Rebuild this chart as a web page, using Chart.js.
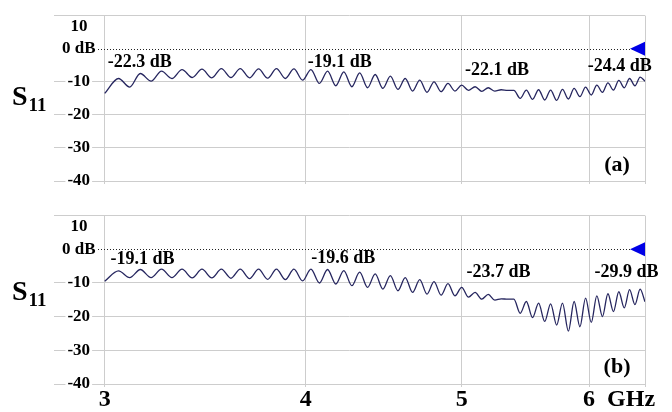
<!DOCTYPE html>
<html><head><meta charset="utf-8">
<script src="https://cdn.jsdelivr.net/npm/chart.js@4.4.0/dist/chart.umd.min.js"></script>
<style>
html,body{margin:0;padding:0;background:#fff;overflow:hidden;}
#wrap{position:relative;width:672px;height:412px;background:#fff;}
#ca{position:absolute;left:0;top:0;}
#cb{position:absolute;left:0;top:200px;}
</style></head><body>
<div id="wrap"><canvas id="ca" width="672" height="200"></canvas><canvas id="cb" width="672" height="212"></canvas></div>
<script>
// ---- data ----
const freqGHz = [
 3.000, 3.060, 3.109, 3.157, 3.206, 3.254, 3.303, 3.351, 3.400, 3.448,
 3.497, 3.545, 3.594, 3.642, 3.691, 3.739, 3.788, 3.836, 3.885, 3.933,
 3.982, 4.030, 4.079, 4.127, 4.176, 4.224, 4.273, 4.321, 4.370, 4.418,
 4.467, 4.515, 4.564, 4.612, 4.661, 4.709, 4.758, 4.806, 4.855, 4.903,
 4.952, 5.000, 5.049, 5.097, 5.146, 5.194, 5.243, 5.291, 5.340, 5.388,
 5.437, 5.485, 5.534, 5.582, 5.631, 5.679, 5.728, 5.776, 5.825, 5.873,
 5.922, 5.970, 6.019, 6.067, 6.116, 6.164, 6.213, 6.261, 6.310, 6.358,
 6.407, 6.455, 6.500];
const s11a = [
 -13.5, -9.0, -11.6, -7.5, -9.8, -6.8, -9.0, -6.3, -8.7, -6.2,
 -8.8, -6.0, -8.7, -6.0, -8.8, -6.1, -8.9, -6.0, -9.0, -6.1,
 -9.5, -6.3, -10.5, -6.8, -11.2, -7.0, -11.5, -7.3, -11.8, -7.8,
 -12.0, -8.3, -12.3, -9.0, -12.8, -9.5, -13.2, -10.0, -13.0, -10.5,
 -12.8, -11.0, -12.6, -11.5, -12.9, -11.8, -12.8, -12.4, -12.6, -12.6,
 -15.0, -12.5, -15.3, -12.4, -15.5, -12.5, -15.6, -12.3, -15.2, -12.0,
 -14.5, -11.6, -14.0, -11.0, -13.2, -10.3, -12.5, -9.6, -11.8, -9.0,
 -11.2, -8.6, -9.8];
const s11b = [
 -9.5, -6.4, -8.4, -6.0, -8.4, -5.9, -8.4, -5.9, -8.5, -5.9,
 -8.5, -5.9, -8.6, -5.9, -8.7, -5.9, -8.9, -5.9, -9.0, -5.9,
 -9.4, -5.9, -10.0, -6.0, -10.3, -6.3, -10.8, -6.8, -11.3, -7.3,
 -11.8, -7.8, -12.3, -8.4, -12.8, -9.0, -13.3, -9.6, -13.6, -10.2,
 -13.8, -11.3, -14.2, -12.8, -14.8, -13.4, -15.1, -14.7, -14.8, -14.8,
 -19.0, -15.5, -20.3, -16.0, -21.4, -16.2, -22.5, -16.0, -24.3, -15.5,
 -23.0, -14.5, -21.7, -13.8, -20.0, -13.2, -18.5, -12.6, -17.4, -12.0,
 -16.4, -11.8, -15.6];
const xTicks = [3, 4, 5, 6, 6.5];
const xTickLabels = ['3', '4', '5', '6', ''];
const yTicks = [10, 0, -10, -20, -30, -40];
const yTickLabels = ['10', '0 dB', '-10', '-20', '-30', '-40'];
const xUnit = 'GHz';
const yTitleMain = 'S';
const yTitleSub = '11';
const noteTextA = ['-22.3 dB', '-19.1 dB', '-22.1 dB', '-24.4 dB'];
const noteFreqA = [3.154, 4.20, 5.26, 6.27];
const noteLevelA = [-4.2, -4.2, -6.5, -5.4];
const noteTextB = ['-19.1 dB', '-19.6 dB', '-23.7 dB', '-29.9 dB'];
const noteFreqB = [3.167, 4.22, 5.27, 6.33];
const noteLevelB = [-2.9, -2.6, -6.7, -6.7];

const SERIF = '"Liberation Serif", "Times New Roman", serif';

function deco(cfg) {
  return {
    id: 'deco',
    beforeDatasetsDraw(chart) {
      const {ctx, chartArea: a, scales: {y}} = chart;
      const y0 = Math.round(y.getPixelForValue(0)) + 0.5;
      ctx.save();
      ctx.strokeStyle = '#222';
      ctx.lineWidth = 1;
      ctx.setLineDash([1, 2]);
      ctx.beginPath();
      ctx.moveTo(a.left + 44, y0);
      ctx.lineTo(a.right - 6, y0);
      ctx.stroke();
      ctx.restore();
    },
    afterDraw(chart) {
      const {ctx, chartArea: a, scales: {x, y}} = chart;
      ctx.save();
      ctx.fillStyle = '#000';
      ctx.textAlign = 'center';
      ctx.textBaseline = 'middle';
      ctx.font = 'bold 17px ' + SERIF;
      ctx.fillText(yTickLabels[0], a.left + 25, y.getPixelForValue(yTicks[0]) + 11);
      ctx.font = 'bold 18px ' + SERIF;
      for (let i = 0; i < cfg.texts.length; i++) {
        ctx.fillText(cfg.texts[i], x.getPixelForValue(cfg.freqs[i]), y.getPixelForValue(cfg.levels[i]));
      }
      ctx.font = 'bold 22px ' + SERIF;
      ctx.fillText(cfg.tag, x.getPixelForValue(cfg.tagF), y.getPixelForValue(cfg.tagV));
      ctx.textAlign = 'left';
      ctx.textBaseline = 'alphabetic';
      ctx.font = 'bold 28px ' + SERIF;
      ctx.fillText(yTitleMain, 12, cfg.sBase);
      const sw = ctx.measureText(yTitleMain).width;
      ctx.font = 'bold 19px ' + SERIF;
      ctx.fillText(yTitleSub, 12 + sw + 1, cfg.sBase + 6);
      const yy = y.getPixelForValue(0);
      ctx.fillStyle = '#0000e6';
      ctx.beginPath();
      ctx.moveTo(a.right - 15, yy);
      ctx.lineTo(a.right, yy - 7);
      ctx.lineTo(a.right, yy + 7);
      ctx.closePath();
      ctx.fill();
      if (cfg.showX) {
        ctx.fillStyle = '#000';
        ctx.font = 'bold 24px ' + SERIF;
        ctx.textAlign = 'left';
        ctx.textBaseline = 'middle';
        ctx.fillText(xUnit, x.getPixelForValue(6) + 18, a.bottom + 16);
      }
      ctx.restore();
    }
  };
}

function makeChart(id, values, cfg, target) {
  const chart = new Chart(document.getElementById(id), {
    type: 'line',
    data: {
      datasets: [{
        data: freqGHz.map((f, i) => ({x: f, y: values[i]})),
        borderColor: '#26265f',
        borderWidth: 1.3,
        pointRadius: 0,
        cubicInterpolationMode: 'monotone',
        fill: false
      }]
    },
    options: {
      responsive: false,
      animation: false,
      devicePixelRatio: 1,
      layout: {padding: {left: target.left, top: target.top, right: 672 - target.right, bottom: cfg.padBottom}},
      plugins: {legend: {display: false}, tooltip: {enabled: false}},
      scales: {
        x: {
          type: 'logarithmic', min: 2.79, max: 6.5,
          afterBuildTicks: s => { s.ticks = xTicks.map(v => ({value: v})); },
          grid: {color: '#cdcdcd', lineWidth: 1, drawTicks: true, tickLength: 3},
          border: {display: true, color: '#cdcdcd'},
          ticks: {
            display: cfg.showX, autoSkip: false, maxRotation: 0, minRotation: 0, padding: 1,
            color: '#000', font: {family: SERIF, weight: 'bold', size: 24, lineHeight: 1},
            callback: (v, i) => xTickLabels[i]
          }
        },
        y: {
          type: 'linear', min: -40, max: 10,
          afterBuildTicks: s => { s.ticks = yTicks.map(v => ({value: v})); },
          grid: {color: c => (c.tick && c.tick.value === 0) ? 'rgba(0,0,0,0)' : '#cdcdcd', drawTicks: false},
          border: {display: false},
          ticks: {
            mirror: true, crossAlign: 'center', padding: 8, color: '#000',
            font: {family: SERIF, weight: 'bold', size: 17, lineHeight: 0.9},
            showLabelBackdrop: true,
            backdropColor: c => (c.tick && c.tick.value === yTicks[0]) ? 'rgba(0,0,0,0)' : '#fff',
            backdropPadding: {top: 0, bottom: 0, left: 2, right: 2},
            callback: v => { const k = yTicks.indexOf(v); return k === 0 ? '' : yTickLabels[k]; }
          }
        }
      }
    },
    plugins: [deco(cfg)]
  });
  for (let it = 0; it < 3; it++) {
    const a = chart.chartArea;
    const p = chart.options.layout.padding;
    const dl = a.left - target.left, dt = a.top - target.top, dr = a.right - target.right, db = a.bottom - target.bottom;
    if (Math.abs(dl) < 0.5 && Math.abs(dt) < 0.5 && Math.abs(dr) < 0.5 && Math.abs(db) < 0.5) break;
    p.left -= dl; p.top -= dt; p.right += dr; p.bottom += db;
    chart.update();
  }
  return chart;
}

makeChart('ca', s11a, {
  texts: noteTextA, freqs: noteFreqA, levels: noteLevelA,
  tag: '(a)', tagF: 6.245, tagV: -35.2, sBase: 105, showX: false, padBottom: 16
}, {left: 54, top: 8, right: 645, bottom: 181});

makeChart('cb', s11b, {
  texts: noteTextB, freqs: noteFreqB, levels: noteLevelB,
  tag: '(b)', tagF: 6.245, tagV: -35.0, sBase: 100, showX: true, padBottom: 0
}, {left: 54, top: 13, right: 645, bottom: 184});
</script>
</body></html>
